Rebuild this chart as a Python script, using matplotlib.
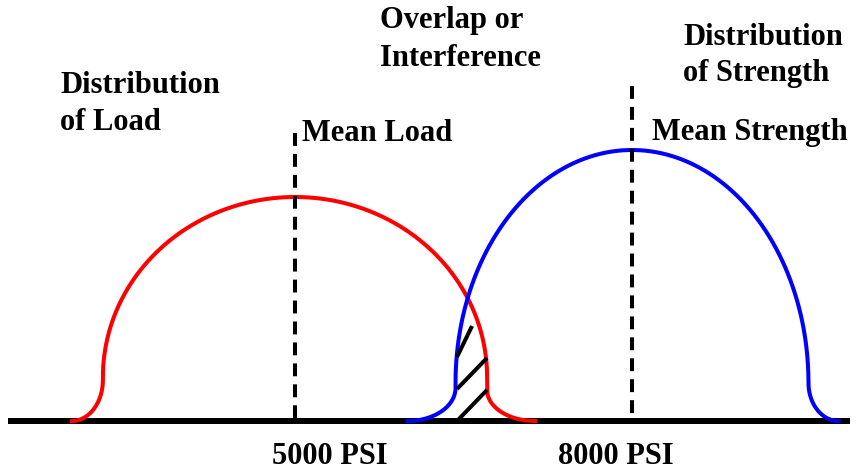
import numpy as np
import matplotlib
matplotlib.use("Agg")
import matplotlib.pyplot as plt

# stress axis (PSI) and schematic distribution shapes (arbitrary height units)
load_mean = 5000
strength_mean = 8000
mean_labels = ["5000 PSI", "8000 PSI"]

# half width, peak, ellipse-centre height, left/right shoulder, left/right tail width
load_shape = [1710, 224, 44, 41, 31, 276, 427]
strength_shape = [1571, 271, 38, 33, 38, 427, 267]

# dashed mean markers (top heights)
load_mean_top = 288
strength_mean_top = 335

# baseline extent
axis_start = 2445
axis_end = 9941

# hatch strokes in the overlap zone: (x0, y0, x1, y1)
hatch_x0 = [6442, 6442, 6442]
hatch_y0 = [64, 32, 0]
hatch_x1 = [6576, 6709, 6709]
hatch_y1 = [95, 63, 31]


def build_curve(mean, shape, n=200):
    half, peak, centre, sh_l, sh_r, tail_l, tail_r = shape
    b = peak - centre
    # left tail (quarter ellipse, horizontal at the baseline)
    t = np.linspace(np.pi / 2, 0, n // 4)
    xl = (mean - half - tail_l) + tail_l * np.cos(t)
    yl = sh_l - sh_l * np.sin(t)
    # main dome
    th = np.linspace(np.pi, 0, n)
    xd = mean + half * np.cos(th)
    yd = centre + b * np.sin(th)
    # right tail
    t = np.linspace(0, np.pi / 2, n // 4)
    xr = (mean + half + tail_r) - tail_r * np.cos(t)
    yr = sh_r - sh_r * np.sin(t)
    x = np.concatenate([xl, xd, xr])
    y = np.concatenate([yl, yd, yr])
    return x, y


fig = plt.figure(figsize=(8.6, 4.69), dpi=100)
ax = fig.add_axes([0, 0, 1, 1])
ax.set_xlim(2373.9, 10029.6)
ax.set_ylim(-48, 421)
ax.axis("off")

ax.plot([axis_start, axis_end], [0, 0], color="black", lw=4.3,
        solid_capstyle="butt", zorder=1)

lx, ly = build_curve(load_mean, load_shape)
ax.plot(lx, ly, color="#ff0000", lw=2.9, zorder=2)
sx, sy = build_curve(strength_mean, strength_shape)
ax.plot(sx, sy, color="#0000ff", lw=2.9, zorder=2)

for i in range(len(hatch_x0)):
    ax.plot([hatch_x0[i], hatch_x1[i]], [hatch_y0[i], hatch_y1[i]],
            color="black", lw=2.9, solid_capstyle="butt", zorder=3)

ax.plot([load_mean, load_mean], [load_mean_top, 0], color="black", lw=2.9,
        dashes=(3.2, 2.0), zorder=3)
ax.plot([strength_mean, strength_mean], [strength_mean_top, 0], color="black",
        lw=2.9, dashes=(3.2, 2.0), zorder=3)

font = dict(family="Liberation Serif", fontweight="bold", fontsize=22,
            color="black", transform=ax.transAxes, va="baseline", ha="left")

ax.text(0.0698, 0.8017, "Distribution", **font)
ax.text(0.0698, 0.7228, "of Load", **font)
ax.text(0.3512, 0.6994, "Mean Load", **font)
ax.text(0.4419, 0.9403, "Overlap or", **font)
ax.text(0.4419, 0.8593, "Interference", **font)
ax.text(0.7942, 0.9041, "Distribution", **font)
ax.text(0.7942, 0.8273, "of Strength", **font)
ax.text(0.7581, 0.7015, "Mean Strength", **font)
ax.text(0.3163, 0.0107, mean_labels[0], **font)
ax.text(0.6488, 0.0107, mean_labels[1], **font)

fig.savefig("out.png", dpi=100)
